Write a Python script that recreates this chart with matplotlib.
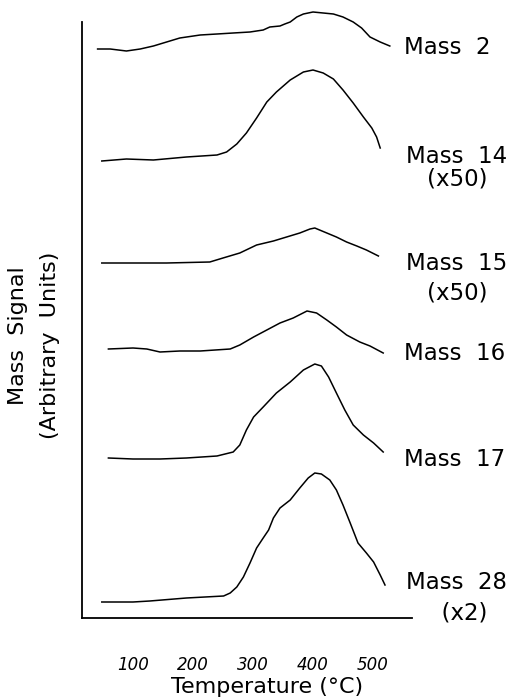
import matplotlib
matplotlib.use("Agg")
import matplotlib.pyplot as plt

# temperatures (deg C) and signals (arbitrary units, stacked)
t_m2 = [41, 62, 89, 112, 134, 156, 178, 212, 240, 267, 295, 317, 328, 345, 353, 362,
        373, 384, 400, 417, 434, 450, 467, 481, 495, 512, 528]
s_m2 = [569, 569, 567, 569, 572, 576, 580, 583, 584, 585, 586, 588, 591, 592, 594, 596,
        601, 604, 606, 605, 604, 601, 596, 590, 581, 576, 572]

t_m14 = [48, 89, 134, 189, 240, 256, 273, 289, 306, 323, 339, 362, 384, 400, 417, 434,
         450, 467, 484, 498, 506, 512]
s_m14 = [457, 459, 458, 461, 463, 466, 474, 485, 500, 516, 526, 538, 546, 548, 545, 539,
         528, 515, 501, 490, 481, 470]

t_m15 = [48, 100, 156, 228, 250, 278, 306, 334, 356, 378, 395, 403, 423, 439, 456, 473,
         489, 509]
s_m15 = [355, 355, 355, 356, 360, 365, 373, 377, 381, 385, 389, 390, 385, 381, 376, 372,
         368, 362]

t_m16 = [59, 100, 123, 145, 178, 212, 262, 278, 301, 323, 345, 367, 390, 406, 423, 439,
         456, 478, 495, 517]
s_m16 = [269, 270, 269, 266, 267, 267, 269, 273, 281, 288, 295, 300, 307, 305, 298, 291,
         283, 276, 272, 265]

t_m17 = [59, 100, 145, 189, 240, 267, 278, 289, 301, 317, 339, 362, 384, 403, 414, 426,
         439, 453, 467, 484, 501, 517]
s_m17 = [160, 159, 159, 160, 162, 166, 173, 188, 201, 211, 225, 236, 248, 254, 252, 241,
         225, 208, 193, 183, 175, 166]

t_m28 = [48, 100, 128, 189, 251, 262, 273, 284, 295, 306, 317, 326, 334, 345, 362, 378,
         392, 403, 414, 428, 439, 450, 462, 475, 489, 501, 512, 520]
s_m28 = [16, 16, 17, 20, 22, 25, 31, 41, 55, 70, 80, 88, 100, 110, 118, 130,
         140, 145, 144, 138, 128, 113, 95, 75, 65, 56, 43, 33]

series = [(t_m2, s_m2), (t_m14, s_m14), (t_m15, s_m15),
          (t_m16, s_m16), (t_m17, s_m17), (t_m28, s_m28)]

labels = ["Mass  2", "Mass  14\n(x50)", "Mass  15\n(x50)", "Mass  16", "Mass  17",
          "Mass  28\n  (x2)"]
label_y = [571, 450, 340, 265, 158, 20]
line_sp = [1.2, 0.96, 1.35, 1.2, 1.2, 1.44]

xticks = [100, 200, 300, 400, 500]

W, H = 517, 699
fig = plt.figure(figsize=(W / 100, H / 100), dpi=100)
ax = fig.add_axes([82 / W, 1 - 618 / H, 330 / W, 618 / H])

for t, s in series:
    ax.plot(t, s, color="black", lw=1.1, clip_on=False, solid_joinstyle="round")

for lab, ly, sp in zip(labels, label_y, line_sp):
    if "\n" in lab:
        ax.text(640, ly, lab, fontsize=16.5, ha="center", va="center",
                multialignment="center", linespacing=sp, clip_on=False)
    else:
        ax.text(552, ly, lab, fontsize=16.5, ha="left", va="center", clip_on=False)

ax.set_xlim(15, 565)
ax.set_ylim(0, 618)
ax.spines["top"].set_visible(False)
ax.spines["right"].set_visible(False)
ax.spines["left"].set_bounds(0, 596)
ax.spines["left"].set_linewidth(1.3)
ax.spines["bottom"].set_linewidth(1.3)

ax.set_xticks(xticks)
ax.set_xticklabels([str(v) for v in xticks], fontsize=12, fontstyle="italic")
ax.tick_params(axis="x", length=0, pad=27)
ax.set_yticks([])

fig.text(267 / W, 1 - 687 / H, "Temperature (\u00b0C)", fontsize=16, ha="center", va="center")
fig.text(18 / W, 1 - 336 / H, "Mass  Signal", fontsize=16, rotation=90, ha="center", va="center")
fig.text(50 / W, 1 - 345 / H, "(Arbitrary  Units)", fontsize=16, rotation=90, ha="center", va="center")

fig.savefig("out.png", dpi=100)
